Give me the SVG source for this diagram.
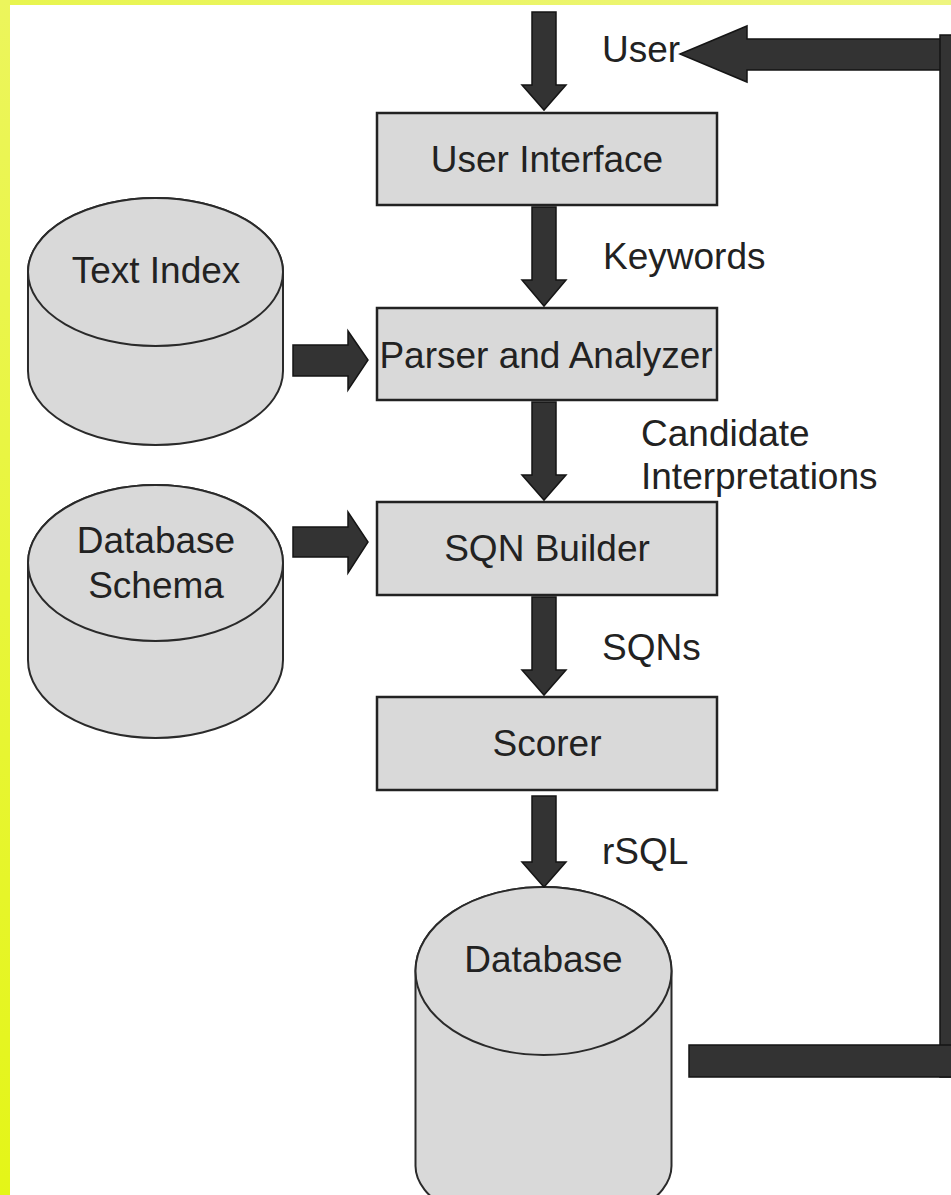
<svg xmlns="http://www.w3.org/2000/svg" width="951" height="1195" viewBox="0 0 951 1195">
<defs>
<linearGradient id="gTop" x1="0" y1="0" x2="1" y2="0"><stop offset="0" stop-color="#e8f54e"/><stop offset="1" stop-color="#eef580"/></linearGradient>
<linearGradient id="gLeft" x1="0" y1="0" x2="0" y2="1"><stop offset="0" stop-color="#ecf55c"/><stop offset="1" stop-color="#e4f518"/></linearGradient>
<style>
.box{fill:#d9d9d9;stroke:#222;stroke-width:2.5}
.cyl{fill:#d9d9d9;stroke:#2a2a2a;stroke-width:2}
.arr{fill:#333;stroke:#151515;stroke-width:1.5;stroke-linejoin:miter}
.t{font-family:"Liberation Sans",Arial,sans-serif;font-size:37px;fill:#222}
.c{text-anchor:middle}
</style>
</defs>
<rect x="0" y="0" width="951" height="1195" fill="#fff"/>
<rect x="0" y="0" width="951" height="5" fill="url(#gTop)"/>
<rect x="0" y="0" width="10" height="1195" fill="url(#gLeft)"/>

<g id="text-index">
<path class="cyl" d="M28,272 A127.5,74 0 0 1 283,272 L283,371 A127.5,74 0 0 1 28,371 Z"/>
<ellipse class="cyl" cx="155.5" cy="272" rx="127.5" ry="74"/>
<text class="t c" x="156" y="283">Text Index</text>
</g>
<g id="database-schema">
<path class="cyl" d="M28,563 A127.5,78 0 0 1 283,563 L283,660 A127.5,78 0 0 1 28,660 Z"/>
<ellipse class="cyl" cx="155.5" cy="563" rx="127.5" ry="78"/>
<text class="t c" x="156" y="553">Database</text>
<text class="t c" x="156" y="598">Schema</text>
</g>
<g id="database">
<path class="cyl" d="M415.5,971 A128,84 0 0 1 671.5,971 L671.5,1166 A128,64 0 0 1 415.5,1166 Z"/>
<ellipse class="cyl" cx="543.5" cy="971" rx="128" ry="84"/>
<text class="t c" x="543.5" y="972">Database</text>
</g>
<g id="user-interface">
<rect class="box" x="377" y="113" width="340" height="92"/>
<text class="t c" x="547" y="172">User Interface</text>
</g>
<g id="parser">
<rect class="box" x="377" y="308" width="340" height="92"/>
<text class="t c" x="546" y="368">Parser and Analyzer</text>
</g>
<g id="sqn-builder">
<rect class="box" x="377" y="502" width="340" height="93"/>
<text class="t c" x="547" y="561">SQN Builder</text>
</g>
<g id="scorer">
<rect class="box" x="377" y="697" width="340" height="93"/>
<text class="t c" x="547" y="756">Scorer</text>
</g>

<g id="connectors">
<polygon class="arr" points="532,12 556,12 556,85 566,85 544,110 522,85 532,85"/>
<polygon class="arr" points="532,207 556,207 556,280 566,280 544,306 522,280 532,280"/>
<polygon class="arr" points="532,402 556,402 556,475 566,475 544,500 522,475 532,475"/>
<polygon class="arr" points="532,597 556,597 556,670 566,670 544,695 522,670 532,670"/>
<polygon class="arr" points="532,796 556,796 556,862 566,862 544,887 522,862 532,862"/>
<polygon class="arr" points="293,345 348,345 348,331 368,360 348,390 348,376 293,376"/>
<polygon class="arr" points="293,527 348,527 348,512 368,542 348,573 348,557 293,557"/>
<polygon class="arr" points="960,39 747,39 747,26 680,54 747,82 747,70 960,70"/>
<rect class="arr" x="940" y="35" width="20" height="1042"/>
<rect class="arr" x="689" y="1045" width="270" height="32"/>
</g>

<g id="labels">
<text class="t" x="602" y="62">User</text>
<text class="t" x="603" y="269">Keywords</text>
<text class="t" x="641" y="446">Candidate</text>
<text class="t" x="641" y="489">Interpretations</text>
<text class="t" x="602" y="660">SQNs</text>
<text class="t" x="602" y="864">rSQL</text>
</g>
</svg>
